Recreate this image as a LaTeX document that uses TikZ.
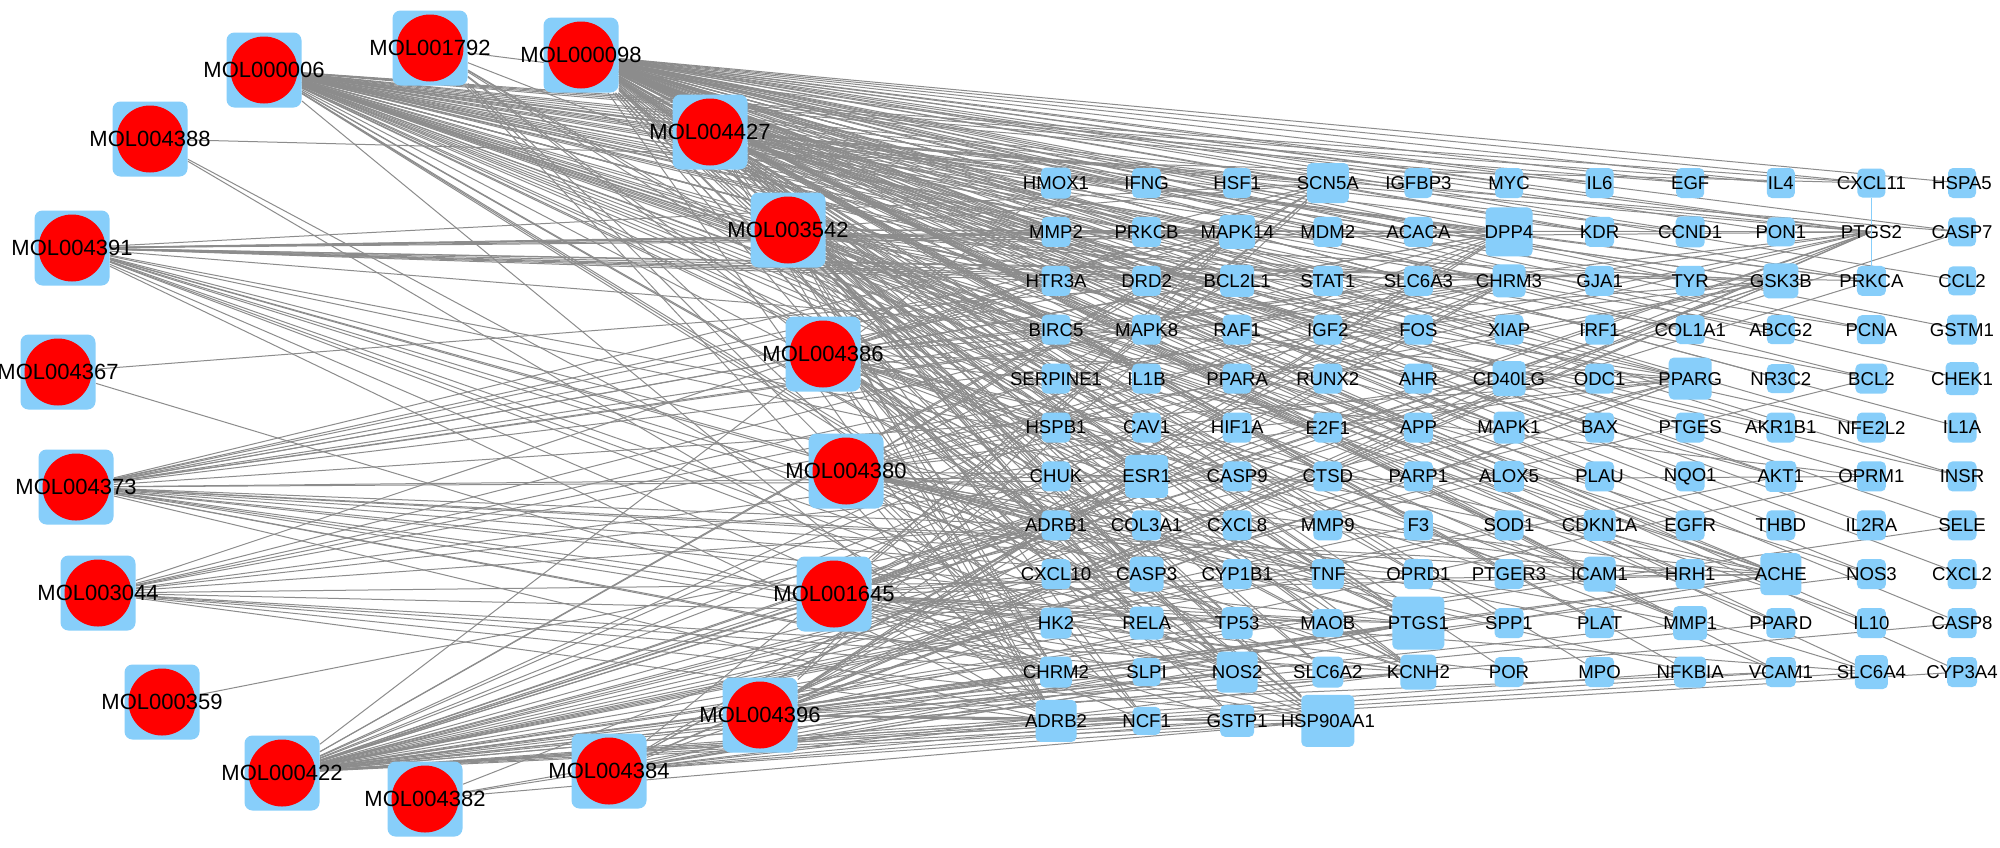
\documentclass[tikz,border=0pt]{standalone}
\usepackage{fontspec}
\setmainfont{Liberation Sans}
\definecolor{nb}{RGB}{135,206,250}
\definecolor{eg}{RGB}{140,140,140}
\pgfdeclarelayer{bg}
\pgfdeclarelayer{edges}
\pgfsetlayers{bg,edges,main}
\begin{document}
\begin{tikzpicture}[x=0.5pt,y=-0.5pt,
 tbox/.style={rectangle,rounded corners=2.5pt,fill=nb,inner sep=0pt,outer sep=0pt},
 tlab/.style={inner sep=0pt,font=\fontsize{9.3}{10}\selectfont},
 mbox/.style={rectangle,rounded corners=4pt,fill=nb,minimum width=37.5pt,minimum height=37.5pt,inner sep=0pt},
 mcirc/.style={circle,fill=red,minimum size=33.5pt,inner sep=0pt},
 mlab/.style={inner sep=0pt,font=\fontsize{11}{12}\selectfont},
 lnk/.style={draw=eg,line width=0.5pt},
 lnkb/.style={draw=nb,line width=0.6pt}]
\useasboundingbox (0,0) rectangle (2000,847);
\begin{pgfonlayer}{bg}
\fill[white] (0,0) rectangle (2000,847);
\end{pgfonlayer}

% ---- molecules ----
\foreach \nm/\xx/\yy in {MOL000006/264/70, MOL001792/430/48, MOL000098/581/55, MOL004388/150/139,
  MOL004391/72/248, MOL004427/710/132, MOL003542/788/230, MOL004367/58/372, MOL004386/823/354,
  MOL004380/846/471, MOL004373/76/487, MOL003044/98/593, MOL001645/834/594, MOL000359/162/702,
  MOL004396/760/715, MOL000422/282/773, MOL004384/609/771, MOL004382/425/799}{
  \node[mbox] (\nm) at (\xx,\yy) {};
  \node[mcirc] (\nm-c) at (\nm) {};
  \node[mlab] (\nm-l) at (\nm) {\nm};
}

% ---- targets ----
\newcommand{\trow}[2]{%
 \foreach \nm/\w/\h [count=\i from 0] in {#2}{
  \node[tbox,minimum width=\w*0.5pt,minimum height=\h*0.5pt] (\nm) at ({1056+90.6*\i},{183+48.9*#1}) {};
  \node[tlab] (\nm-l) at (\nm) {\nm};
 }}
\trow{0}{HMOX1/30/31, IFNG/29/30, HSF1/28/30, SCN5A/42/40, IGFBP3/28/30, MYC/28/30, IL6/28/30, EGF/28/30, IL4/28/30, CXCL11/28/29, HSPA5/28/30}
\trow{1}{MMP2/29/30, PRKCB/29/30, MAPK14/36/34, MDM2/29/30, ACACA/29/30, DPP4/47/49, KDR/29/30, CCND1/29/31, PON1/28/29}
\coordinate (PTGS2) at ({1056+90.6*9},{183+48.9});
\node[tlab] (PTGS2-l) at (PTGS2) {PTGS2};
\node[tbox,minimum width=14pt,minimum height=14.5pt] (CASP7) at ({1056+90.6*10},{183+48.9}) {};
\node[tlab] (CASP7-l) at (CASP7) {CASP7};
\trow{2}{HTR3A/29/30, DRD2/29/30, BCL2L1/34/32, STAT1/30/30, SLC6A3/29/30, CHRM3/33/33, GJA1/29/30, TYR/29/30, GSK3B/35/35, PRKCA/29/30, CCL2/28/29}
\trow{3}{BIRC5/29/30, MAPK8/29/30, RAF1/29/30, IGF2/29/30, FOS/29/30, XIAP/29/30, IRF1/29/30, COL1A1/29/29, ABCG2/28/29, PCNA/29/29, GSTM1/30/30}
\trow{4}{SERPINE1/29/30, IL1B/29/30, PPARA/29/30, RUNX2/29/30, AHR/29/30, CD40LG/33/35, ODC1/29/30, PPARG/43/42, NR3C2/28/29, BCL2/32/30, CHEK1/33/33}
\trow{5}{HSPB1/29/30, CAV1/29/30, HIF1A/29/30, E2F1/29/30, APP/29/30, MAPK1/31/32, BAX/29/30, PTGES/29/30, AKR1B1/29/30, NFE2L2/29/30, IL1A/29/30}
\trow{6}{CHUK/29/30, ESR1/43/43, CASP9/29/30, CTSD/29/30, PARP1/29/30, ALOX5/30/31, PLAU/29/30, NQO1/29/30, AKT1/31/31, OPRM1/29/30, INSR/29/30}
\trow{7}{ADRB1/29/30, COL3A1/29/30, CXCL8/29/30, MMP9/29/30, F3/29/30, SOD1/29/30, CDKN1A/32/31, EGFR/29/30, THBD/29/30, IL2RA/29/30, SELE/29/30}
\trow{8}{CXCL10/29/30, CASP3/34/35, CYP1B1/29/30, TNF/32/30, OPRD1/29/30, PTGER3/29/30, ICAM1/32/35, HRH1/29/30, ACHE/41/42, NOS3/29/30, CXCL2/29/30}
\trow{9}{HK2/31/31, RELA/34/33, TP53/31/32, MAOB/31/28, PTGS1/52/53, SPP1/29/30, PLAT/29/30, MMP1/34/34, PPARD/29/30, IL10/29/30, CASP8/29/30}
\trow{10}{CHRM2/32/31, SLPI/28/28, NOS2/41/41, SLC6A2/31/31, KCNH2/36/35, POR/29/30, MPO/29/30, NFKBIA/32/31, VCAM1/30/30, SLC6A4/33/34, CYP3A4/30/30}
\trow{11}{ADRB2/41/42, NCF1/28/28, GSTP1/34/32, HSP90AA1/53/52}

% ---- connectors ----
\begin{pgfonlayer}{edges}
\foreach \t in {HMOX1, IFNG, HSF1, IGFBP3, MYC, IL6, EGF, IL4, CXCL11, HSPA5, MMP2, PRKCB, MDM2, ACACA, KDR, CCND1, PON1, PTGS2, CASP7, STAT1, GJA1, TYR, PRKCA, CCL2, BIRC5, RAF1, IGF2, FOS, XIAP, IRF1, COL1A1, ABCG2, PCNA, GSTM1, SERPINE1, IL1B, PPARA, RUNX2, AHR, ODC1, PPARG, NR3C2, BCL2, CHEK1, HSPB1, CAV1, HIF1A, E2F1, APP, MAPK1, BAX, PTGES, AKR1B1, NFE2L2, IL1A, CHUK, ESR1, CASP9, CTSD, PARP1, ALOX5, PLAU, NQO1, AKT1, INSR, COL3A1, CXCL8, MMP9, F3, SOD1, CDKN1A, EGFR, THBD, IL2RA, SELE, CXCL10, CASP3, CYP1B1, TNF, ICAM1, NOS3, CXCL2, RELA, TP53, SPP1, PLAT, MMP1, PPARD, IL10, CASP8, SLPI, NOS2, POR, MPO, NFKBIA, VCAM1, CYP3A4, NCF1, GSTP1, HSP90AA1, PTGS1, ADRB2, DPP4}
  {\draw[lnk] (MOL000098) -- (\t);}
\foreach \t in {HMOX1, IFNG, IL6, EGF, IL4, CXCL11, MMP2, PRKCB, MAPK14, MDM2, KDR, CCND1, PTGS2, DPP4, SCN5A, GSK3B, PRKCA, STAT1, BCL2L1, TYR, BIRC5, MAPK8, RAF1, IGF2, FOS, XIAP, COL1A1, ABCG2, PCNA, IL1B, PPARA, AHR, PPARG, BCL2, HSPB1, CAV1, HIF1A, E2F1, APP, MAPK1, BAX, AKR1B1, NFE2L2, ESR1, CASP9, ALOX5, PLAU, AKT1, INSR, MMP9, SOD1, CDKN1A, EGFR, CASP3, TNF, ICAM1, RELA, TP53, MMP1, IL10, NOS2, VCAM1, PTGS1, HSP90AA1, ADRB2, ACHE, KCNH2}
  {\draw[lnk] (MOL000006) -- (\t);}
\foreach \t in {PTGS2, PTGS1, HSP90AA1, NOS2, ADRB2, ESR1, DPP4, SCN5A, PPARG, ACHE, CHRM3, GSK3B, KCNH2, CASP3, AKT1, TNF, BCL2, BAX, CASP9, CASP8, CASP7, ICAM1, VCAM1, SELE, MAPK14, HMOX1, CYP1B1, CYP3A4, NOS3, F3, SLC6A4, MMP1, PPARD, ALOX5, RELA, IL1B, CHRM2, ADRB1, NCF1, GSTP1, SLPI, HK2, CXCL10, CHUK, PRKCA, TP53, SOD1, NFKBIA}
  {\draw[lnk] (MOL000422) -- (\t);}
\foreach \t in {PTGS2, PTGS1, HSP90AA1, NOS2, ADRB2, ESR1, DPP4, SCN5A, PPARG, ACHE, CHRM3, GSK3B, KCNH2, CASP3, MAPK14, BCL2L1, CD40LG, CHRM2, ADRB1, HTR3A, DRD2, SLC6A3, SLC6A2, SLC6A4, OPRD1, OPRM1, PTGER3, MAOB, HRH1, PRKCA, RELA, MMP2, TP53, ICAM1, NCF1, MAPK1, PRKCB, AKT1, CASP9, CASP7}
  {\draw[lnk] (MOL004427) -- (\t);}
\foreach \t in {PTGS2, PTGS1, HSP90AA1, NOS2, ADRB2, ESR1, DPP4, SCN5A, PPARG, ACHE, CHRM3, GSK3B, KCNH2, MAPK14, BCL2L1, CD40LG, CHRM2, ADRB1, HTR3A, DRD2, SLC6A3, SLC6A2, OPRD1, MAOB, HRH1, CASP3, RELA, TNF, MMP1, NOS3, PPARD}
  {\draw[lnk] (MOL003542) -- (\t);}
\foreach \t in {PTGS2, PTGS1, HSP90AA1, NOS2, ADRB2, ESR1, DPP4, SCN5A, PPARG, ACHE, CHRM3, GSK3B, KCNH2, CHRM2, ADRB1, HTR3A, SLC6A4, OPRM1, PTGER3, MAPK14, CASP3, TP53, ICAM1, RELA, GSTP1, CYP1B1, MMP9, CTSD}
  {\draw[lnk] (MOL004386) -- (\t);}
\foreach \t in {PTGS2, PTGS1, HSP90AA1, NOS2, ADRB2, ESR1, DPP4, SCN5A, PPARG, ACHE, CHRM3, GSK3B, KCNH2, CHRM2, ADRB1, SLC6A2, OPRD1, HRH1, CASP3, MAPK14, BCL2L1, CD40LG, TNF, PLAT, MMP1, SPP1, NFKBIA, HK2}
  {\draw[lnk] (MOL004380) -- (\t);}
\foreach \t in {PTGS2, PTGS1, HSP90AA1, NOS2, ADRB2, ESR1, DPP4, SCN5A, PPARG, ACHE, CHRM3, GSK3B, KCNH2, CHRM2, ADRB1, SLC6A4, CASP3, MAPK14, CXCL10, RELA, MAOB, POR, GSTP1, NCF1, TP53}
  {\draw[lnk] (MOL001645) -- (\t);}
\foreach \t in {PTGS2, PTGS1, HSP90AA1, NOS2, ADRB2, ESR1, DPP4, SCN5A, PPARG, ACHE, CHRM3, GSK3B, KCNH2, CHRM2, ADRB1, SLC6A3, OPRM1, CASP3, MAPK14, CD40LG, SLPI, NCF1, GSTP1, HK2, VCAM1}
  {\draw[lnk] (MOL004396) -- (\t);}
\foreach \t in {PTGS2, PTGS1, HSP90AA1, NOS2, ADRB2, ESR1, DPP4, SCN5A, PPARG, ACHE, CHRM3, GSK3B, KCNH2, CHRM2, GSTP1, NCF1}
  {\draw[lnk] (MOL004384) -- (\t);}
\foreach \t in {PTGS2, HSP90AA1, PTGS1, NOS2}
  {\draw[lnk] (MOL004382) -- (\t);}
\foreach \t in {PTGS2, PTGS1, HSP90AA1, NOS2, ADRB2, ESR1, DPP4, SCN5A, PPARG, ACHE, CHRM3, GSK3B, KCNH2, CHRM2, ADRB1, HTR3A, DRD2, SLC6A3, SLC6A2, OPRD1, OPRM1, MAOB, HRH1, CASP3, BCL2L1, MAPK14}
  {\draw[lnk] (MOL004373) -- (\t);}
\foreach \t in {PTGS2, PTGS1, HSP90AA1, NOS2, ADRB2, ESR1, DPP4, SCN5A, PPARG, ACHE, CHRM3, GSK3B, KCNH2, CHRM2, ADRB1, PRKCA, MMP2, PRKCB, MAPK14, HTR3A, DRD2, BCL2L1, STAT1, CASP3, TNF, RELA}
  {\draw[lnk] (MOL004391) -- (\t);}
\foreach \t in {PTGS2, PTGS1, HSP90AA1, NOS2, ADRB2, ESR1, DPP4, PPARG, ACHE, CHRM3, GSK3B, KCNH2, ADRB1, CHRM2, SCN5A}
  {\draw[lnk] (MOL003044) -- (\t);}
\foreach \t in {PTGS2, PTGS1, HSP90AA1, NOS2, ADRB2, ESR1, ACHE, KCNH2, CHRM2, NCF1}
  {\draw[lnk] (MOL001792) -- (\t);}
\foreach \t in {CXCL11, HK2, CHRM2}
  {\draw[lnk] (MOL004388) -- (\t);}
\foreach \t in {BCL2L1, CHRM2}
  {\draw[lnk] (MOL004367) -- (\t);}
\draw[lnk] (MOL000359) -- (ADRB1);
\draw[lnkb] (CXCL11) -- (PRKCA);
\end{pgfonlayer}
\end{tikzpicture}
\end{document}
